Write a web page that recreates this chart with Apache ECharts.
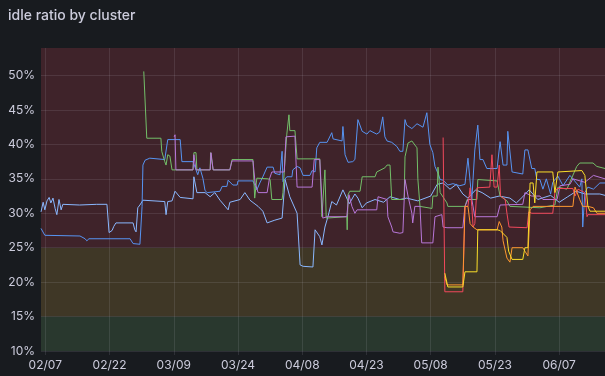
<!DOCTYPE html>
<html><head><meta charset="utf-8">
<script src="https://cdn.jsdelivr.net/npm/echarts@6/dist/echarts.min.js"></script>
<style>html,body{margin:0;padding:0;background:#181b1f}#c{width:605px;height:376px}</style>
</head><body><div id="c"></div>
<script>
// x values are days after 02/07
const xTickDays = [0, 15, 30, 45, 60, 75, 90, 105, 120];
const xTickLabels = ['02/07', '02/22', '03/09', '03/24', '04/08', '04/23', '05/08', '05/23', '06/07'];
const yTicks = [10, 15, 20, 25, 30, 35, 40, 45, 50];
const seriesNames = ['cluster-a', 'cluster-b', 'cluster-c', 'cluster-d', 'cluster-e', 'cluster-f', 'cluster-g'];

const sky = [[-1.0,30.2],[-0.5,31.6],[-0.1,30.5],[0.4,31.8],[0.9,32.3],[1.3,31.5],[1.8,32.2],[2.3,30.7],[2.7,29.8],[3.2,32],[3.7,30.5],[4.1,31.3],[8,31.2],[12,31.3],[14.4,31.3],[14.9,27.2],[15.6,27.5],[16.0,28.1],[16.5,28.6],[20.5,28.6],[20.9,27.6],[21.2,27.3],[21.6,30.8],[22.1,31.2],[22.8,31.9],[27.9,31.7],[28.2,29.8],[28.6,31.7],[29.6,31.8],[30.3,33.2],[31.5,32.3],[34.5,32.1],[34.7,35.3],[35.4,33],[37.3,33],[38.5,32.4],[39.6,33],[40.8,31.9],[42.7,30.5],[43.1,31.6],[45.5,32],[46.6,33],[47.8,31.9],[49.7,31],[50.8,30.3],[51.8,28.6],[53.6,29],[55.3,29.3],[56.0,34.9],[57.1,32.4],[58.8,30],[59.5,22.5],[60.2,22.3],[62.5,22.2],[63.0,27.6],[64.1,26.6],[64.6,25.4],[65.3,28],[66.0,29.5],[66.9,31.7],[68,31.2],[69.5,33.4],[71,31.4],[72.3,32.8],[73,32.2],[74.0,30.8],[75,31.5],[77,32],[79,31.6],[80.5,32.4],[82.8,32],[84.4,32.2],[87,31.8],[90,32.5],[91.5,34.2],[92.9,34.4],[94.5,33.5],[96,34.2],[97.5,32.8],[98.7,32.2],[100.5,33.4],[102,33],[104,32.2],[106,32.5],[108.5,32.2],[110,31.5],[111.5,32.4],[113,33.4],[115,32],[118,32.6],[120,31.6],[122,32.4],[124,33.2],[126,32.8],[129.5,32.8],[130.7,32.6]];

const blue = [[-1.0,27.8],[-0.1,26.8],[8.1,26.7],[9.3,26.3],[9.7,26.0],[10.2,26.3],[19.8,26.3],[20.5,25.6],[22.1,25.5],[22.6,31],[22.8,37],[23.3,37.7],[24.4,38],[27.9,37.8],[28.6,40.7],[31.5,40.7],[31.9,37.5],[34.5,37.5],[35.6,35.6],[36.1,36.6],[36.8,35.1],[37.3,33.3],[37.8,33],[40.8,33.2],[41.3,33.9],[42.4,33.9],[42.7,34.8],[43.8,34.1],[44.8,34.1],[45.0,34.7],[48.5,34.7],[49.4,33.4],[50.1,34.4],[50.8,35.3],[51.8,36.7],[53.2,36.7],[53.6,35.8],[54.8,35.6],[55.3,39],[55.5,34.6],[56.4,35.3],[57.6,35.3],[57.8,36.3],[58.8,36.8],[59.5,36.6],[60.2,35.5],[61.8,35.5],[62.3,36.2],[63.0,36],[63.4,39.5],[64.1,40.3],[65.8,40.3],[66.0,40.5],[66.9,41.7],[67.2,40.8],[69.3,40.5],[69.5,42.6],[70.0,38.5],[70.7,37.4],[71.8,37.5],[72.3,37.8],[73.0,43.6],[74.0,41.9],[75.1,41.5],[75.8,42],[77.4,41.5],[78.1,41.8],[78.8,44],[79.3,41.1],[79.8,40.5],[80.9,40.3],[82.1,39.7],[82.8,39],[83.5,39],[84.0,43.6],[84.4,42.8],[85.6,42.3],[86.8,43],[88.2,42.5],[89.1,44.6],[89.8,40],[90.5,38.8],[91.0,36.8],[91.7,35.8],[92.2,34.9],[92.9,34.8],[94.0,34.1],[95.2,34.3],[96.8,34.0],[98.0,34.2],[98.7,38],[99.6,32],[100.3,39.2],[101.0,42.8],[101.5,37.8],[102.2,37.8],[103.1,36.5],[105.5,36.5],[106.2,40.4],[106.9,37],[107.8,37],[108.0,41.9],[109.0,36],[111.5,35.7],[112.0,39.2],[112.7,39.2],[113.6,36.5],[114.3,36.5],[114.8,34.9],[115.5,34.9],[116.2,33.5],[117,35],[118,32.8],[118.5,34.5],[119.7,35.4],[120.9,34],[122.5,35.5],[123.2,35],[124.8,33.8],[125.3,35],[125.5,28],[126.0,33],[126.7,33.8],[128,33.5],[129.5,34.4],[130.7,34.4]];

const green = [[23.0,50.6],[23.3,50.6],[23.7,40.9],[27.0,40.9],[27.2,39],[27.5,38.8],[27.9,37.5],[28.2,37],[28.6,38.5],[29.1,38.3],[29.6,36.3],[34.5,36.3],[34.7,38.8],[35.2,38.8],[35.4,36.3],[38.5,36.3],[38.6,38.8],[38.9,38.8],[39.2,36.3],[43.1,36.3],[43.6,37.8],[48.5,37.8],[48.9,32.2],[49.4,35.1],[52.0,35],[52.5,34.9],[52.9,32],[55.3,32],[55.5,33],[56.0,38],[56.4,41.5],[56.9,44.3],[57.1,42],[58.3,42],[58.8,37.9],[64.1,37.9],[64.6,29.5],[65.0,29.5],[65.3,36.3],[65.6,29.3],[70.4,29.5],[70.5,27.6],[70.7,32.7],[71.1,33.2],[73.5,33.2],[74.0,35.3],[77.0,35.3],[77.4,36],[79.3,36.6],[79.8,37],[80.5,37],[80.9,32],[83.8,32],[84.0,38.2],[84.7,40.2],[85.6,40.5],[86.8,39.5],[87.0,35],[87.5,31],[90.3,30.7],[90.5,32.5],[91.5,32.5],[91.7,36.7],[92.2,33],[93.8,31.5],[94.0,31],[98.0,31],[98.5,32],[100.8,32],[101.0,34.9],[105.5,34.7],[106.2,32.5],[107.8,31.8],[108.5,31],[115.5,30.8],[119.0,31.2],[119.7,33.8],[121.8,33.5],[124.1,36.8],[124.8,37.3],[127.9,37.3],[128.8,36.8],[130.7,36.5]];

const purple = [[30.1,41.1],[30.3,41.4],[30.5,36.3],[34.5,36.3],[34.7,38.5],[35.0,38.5],[35.2,36.3],[38.5,36.3],[38.7,38.8],[38.9,38.8],[39.2,36.3],[43.1,36.3],[43.6,37.6],[48.5,37.6],[49.0,34.4],[49.7,33],[51.8,33],[52.3,34.9],[52.9,36],[55.8,36],[56.2,41.1],[58.3,41.2],[58.8,33.8],[62.3,33.8],[62.8,37.8],[64.1,37.8],[64.8,29.3],[65.8,29.5],[70.4,29.5],[70.9,32.7],[71.6,31],[72.3,30],[72.8,30.5],[77.4,30.5],[77.7,32.4],[79.8,32],[80.0,29.5],[80.9,28],[81.2,27.3],[82.8,27.1],[83.5,27.2],[84.0,34.9],[84.7,32.5],[85.6,30],[85.8,28.6],[86.3,31],[87.5,31],[87.9,25.7],[90.5,25.7],[91.0,29.5],[92.6,29.8],[92.9,28],[93.8,27.9],[97.5,27.9],[98.0,31],[98.7,32],[99.6,32],[100.3,29.5],[105.5,29.5],[106.2,31.2],[111.5,31.3],[112.0,33],[113.6,32.5],[115.5,32.5],[116.2,32],[119.5,32],[120.2,34],[122.5,34.2],[123.2,35],[126,34.5],[128,35.5],[130.7,35]];

const red = [[92.9,41],[93.3,18.6],[97.5,18.6],[98.0,31],[98.7,31],[99.2,33.7],[99.6,31],[99.9,28],[100.3,28.5],[100.8,33.7],[103.8,33.8],[104.3,38.5],[104.8,33.8],[105.5,33.8],[106.0,37],[106.3,32.5],[107.4,32],[107.8,30],[108.3,28],[112.5,27.9],[112.9,30.2],[113.6,30],[118.5,30],[119.0,33],[119.5,33.6],[123.2,33.6],[123.7,32.5],[124.4,33.5],[126.0,33],[126.5,29.5],[126.7,29.8],[130.7,29.8]];

const orange = [[93.3,20.8],[93.8,19.6],[97.5,19.6],[98.0,31],[98.7,31],[99.2,28.5],[99.9,28],[100.8,27.6],[105.5,27.6],[106.0,28.8],[106.6,28],[106.9,26],[107.8,23.5],[108.5,22.9],[109.0,25],[111.5,25],[112.0,24.5],[112.7,23.8],[113.2,30.5],[113.9,31],[123.2,31],[123.7,33.8],[124.8,32],[125.5,31],[126.7,31],[128,30.8],[128.8,30],[130.7,30]];

const yellow = [[93.3,21.3],[94.0,19.3],[97.5,19.3],[98.0,21.5],[100.8,21.5],[101.0,27.6],[105.5,27.6],[106.2,27.5],[107.8,26.5],[108.2,24.5],[109.0,23.3],[111.5,23.3],[112.0,25],[112.7,25],[113.2,34.4],[113.9,34.4],[114.3,31.5],[114.8,36],[118.5,36],[119.0,33],[119.7,36],[125.3,36.2],[126.0,35.5],[126.7,31],[127.2,30.3],[130.7,30.3]];

const allData = [sky, blue, green, purple, red, orange, yellow];
const colors = ['#8AB8FF', '#5794F2', '#73BF69', '#B877D9', '#F2495C', '#FF9830', '#FADE2A'];

const chart = echarts.init(document.getElementById('c'), null, {renderer: 'canvas'});
const textColor = '#ccccdc';
const gridColor = 'rgba(204,204,220,0.12)';

const series = [{
  type: 'line', name: 'bands', data: [], z: 1, silent: true,
  markArea: {
    silent: true,
    data: [
      [{yAxis: 10, itemStyle: {color: '#29382e'}}, {yAxis: 15}],
      [{yAxis: 15, itemStyle: {color: '#3f3726'}}, {yAxis: 25}],
      [{yAxis: 25, itemStyle: {color: '#3f232a'}}, {yAxis: 54}]
    ]
  }
}];
allData.forEach((d, i) => {
  series.push({
    type: 'line', name: seriesNames[i], data: d, z: 2,
    showSymbol: false, symbol: 'none',
    lineStyle: {width: 1, color: colors[i]},
    itemStyle: {color: colors[i]}
  });
});

chart.setOption({
  backgroundColor: '#181b1f',
  animation: false,
  title: {
    text: 'idle ratio by cluster', left: 8, top: 9, padding: 0,
    textStyle: {color: textColor, fontSize: 14, fontWeight: 500, fontFamily: 'Inter'}
  },
  grid: {left: 41, right: 0, top: 48, bottom: 25, containLabel: false},
  xAxis: {
    type: 'value', min: -1, max: 130.7, z: 1.5,
    axisLine: {show: false},
    axisTick: {show: true, length: 4, customValues: xTickDays, lineStyle: {color: gridColor}},
    axisLabel: {
      customValues: xTickDays, color: textColor, fontSize: 12, fontFamily: 'Inter', margin: 8,
      formatter: v => xTickLabels[xTickDays.indexOf(v)]
    },
    splitLine: {show: true, lineStyle: {color: gridColor, width: 1}}
  },
  yAxis: {
    type: 'value', min: 10, max: 54, z: 1.5,
    axisLine: {show: false}, axisTick: {show: false, customValues: yTicks},
    axisLabel: {customValues: yTicks, color: textColor, fontSize: 12, fontFamily: 'Inter', margin: 6,
      formatter: v => v + '%'},
    splitLine: {show: true, lineStyle: {color: gridColor, width: 1}}
  },
  series: series
});
</script></body></html>
